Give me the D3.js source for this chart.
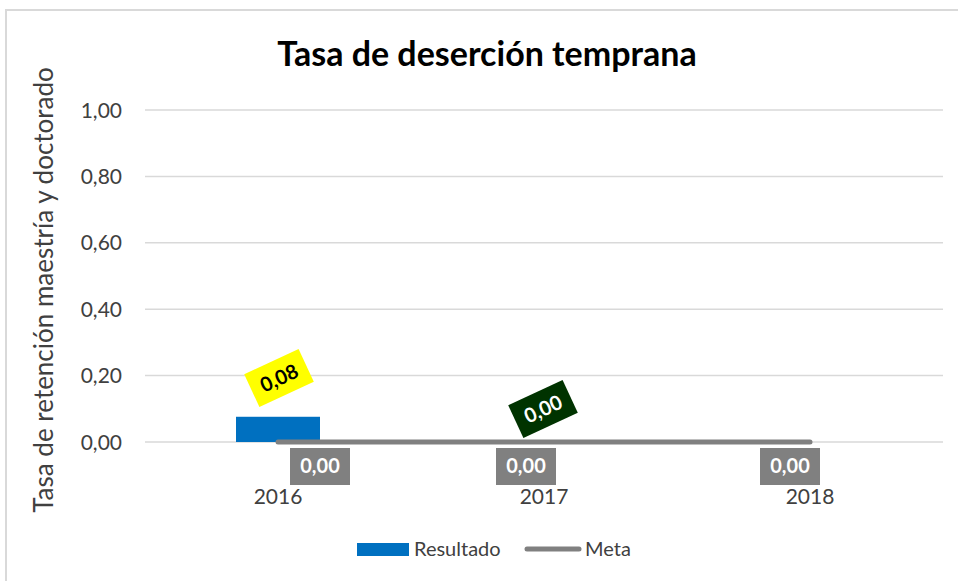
<!DOCTYPE html>
<html>
<head>
<meta charset="utf-8">
<script src="https://cdn.jsdelivr.net/npm/d3@7"></script>
<style>
  body { margin: 0; background: #fff; }
  svg { display: block; font-family: Lato, "Open Sans", sans-serif; }
</style>
</head>
<body>
<script>
// chart data
var years = ['2016', '2017', '2018'];
var resultado = [0.076, null, null];
var meta = [0, 0, 0];
var resultadoLabels = ['0,08', '0,00'];
var metaLabels = ['0,00', '0,00', '0,00'];
var yTicks = [0, 0.2, 0.4, 0.6, 0.8, 1.0];

var W = 958, H = 581;
var margin = { left: 145, right: 15, top: 110, bottom: 139 };

var svg = d3.select('body').append('svg')
  .attr('width', W)
  .attr('height', H);

// outer frame
svg.append('rect')
  .attr('x', 6).attr('y', 10)
  .attr('width', W + 10).attr('height', H + 10)
  .attr('fill', 'none')
  .attr('stroke', '#d9d9d9')
  .attr('stroke-width', 2);

var x = d3.scaleBand()
  .domain(years)
  .range([margin.left, 943])
  .padding(0);

var y = d3.scaleLinear()
  .domain([0, 1])
  .range([442, 110]);

// gridlines
svg.append('g')
  .selectAll('line')
  .data(yTicks)
  .enter().append('line')
  .attr('x1', margin.left).attr('x2', 943)
  .attr('y1', function(d) { return y(d); })
  .attr('y2', function(d) { return y(d); })
  .attr('stroke', '#d9d9d9')
  .attr('stroke-width', 1.5);

// y tick labels
svg.append('g')
  .selectAll('text')
  .data(yTicks)
  .enter().append('text')
  .attr('x', 122)
  .attr('y', function(d) { return y(d); })
  .attr('dy', '0.36em')
  .attr('text-anchor', 'end')
  .attr('fill', '#404040')
  .style('font-size', '21px')
  .text(function(d) { return d3.format('.2f')(d).replace('.', ','); });

// y axis title
svg.append('text')
  .attr('transform', 'translate(53,290) rotate(-90)')
  .attr('text-anchor', 'middle')
  .attr('fill', '#404040')
  .style('font-size', '26px')
  .text('Tasa de retención maestría y doctorado');

// title
svg.append('text')
  .attr('x', 487).attr('y', 66)
  .attr('text-anchor', 'middle')
  .attr('fill', '#000')
  .style('font-size', '34px')
  .style('font-weight', 'bold')
  .text('Tasa de deserción temprana');

// bars (Resultado)
var barW = 84;
svg.append('g')
  .selectAll('rect')
  .data(years.map(function(d, i) { return { year: d, v: resultado[i] }; })
    .filter(function(d) { return d.v != null; }))
  .enter().append('rect')
  .attr('x', function(d) { return x(d.year) + x.bandwidth() / 2 - barW / 2; })
  .attr('y', function(d) { return y(d.v); })
  .attr('width', barW)
  .attr('height', function(d) { return y(0) - y(d.v); })
  .attr('fill', '#0070c0');

// line (Meta)
var cx = function(d) { return x(d) + x.bandwidth() / 2; };
var line = d3.line()
  .x(function(d, i) { return cx(years[i]); })
  .y(function(d) { return y(d); });

svg.append('path')
  .datum(meta)
  .attr('d', line)
  .attr('fill', 'none')
  .attr('stroke', '#808080')
  .attr('stroke-width', 5)
  .attr('stroke-linecap', 'round');

// meta labels (gray boxes)
var metaOffsets = [42, -18, -20];
metaLabels.forEach(function(t, i) {
  var g = svg.append('g')
    .attr('transform', 'translate(' + (cx(years[i]) + metaOffsets[i]) + ',' + (y(meta[i]) + 24) + ')');
  g.append('rect')
    .attr('x', -30).attr('y', -18)
    .attr('width', 60).attr('height', 37)
    .attr('fill', '#808080');
  g.append('text')
    .attr('dy', '0.36em')
    .attr('text-anchor', 'middle')
    .attr('fill', '#fff')
    .style('font-size', '20px')
    .style('font-weight', 'bold')
    .text(t);
});

// resultado labels (rotated)
var resPos = [
  { x: cx(years[0]) + 1, y: 378, fill: '#ffff00', color: '#000' },
  { x: cx(years[1]) - 1, y: 409, fill: '#003300', color: '#fff' }
];
resultadoLabels.forEach(function(t, i) {
  var p = resPos[i];
  var g = svg.append('g')
    .attr('transform', 'translate(' + p.x + ',' + p.y + ') rotate(-25)');
  g.append('rect')
    .attr('x', -30).attr('y', -18)
    .attr('width', 60).attr('height', 36)
    .attr('fill', p.fill);
  g.append('text')
    .attr('dy', '0.36em')
    .attr('text-anchor', 'middle')
    .attr('fill', p.color)
    .style('font-size', '20px')
    .style('font-weight', 'bold')
    .text(t);
});

// x labels
svg.append('g')
  .selectAll('text')
  .data(years)
  .enter().append('text')
  .attr('x', function(d) { return cx(d); })
  .attr('y', 504)
  .attr('text-anchor', 'middle')
  .attr('fill', '#404040')
  .style('font-size', '21px')
  .text(function(d) { return d; });

// legend
var lg = svg.append('g');
lg.append('rect')
  .attr('x', 357).attr('y', 543)
  .attr('width', 52).attr('height', 13)
  .attr('fill', '#0070c0');
lg.append('text')
  .attr('x', 414).attr('y', 556)
  .attr('fill', '#404040')
  .style('font-size', '20px')
  .text('Resultado');
lg.append('line')
  .attr('x1', 527).attr('x2', 579)
  .attr('y1', 549).attr('y2', 549)
  .attr('stroke', '#808080')
  .attr('stroke-width', 5)
  .attr('stroke-linecap', 'round');
lg.append('text')
  .attr('x', 585).attr('y', 556)
  .attr('fill', '#404040')
  .style('font-size', '20px')
  .text('Meta');
</script>
</body>
</html>
